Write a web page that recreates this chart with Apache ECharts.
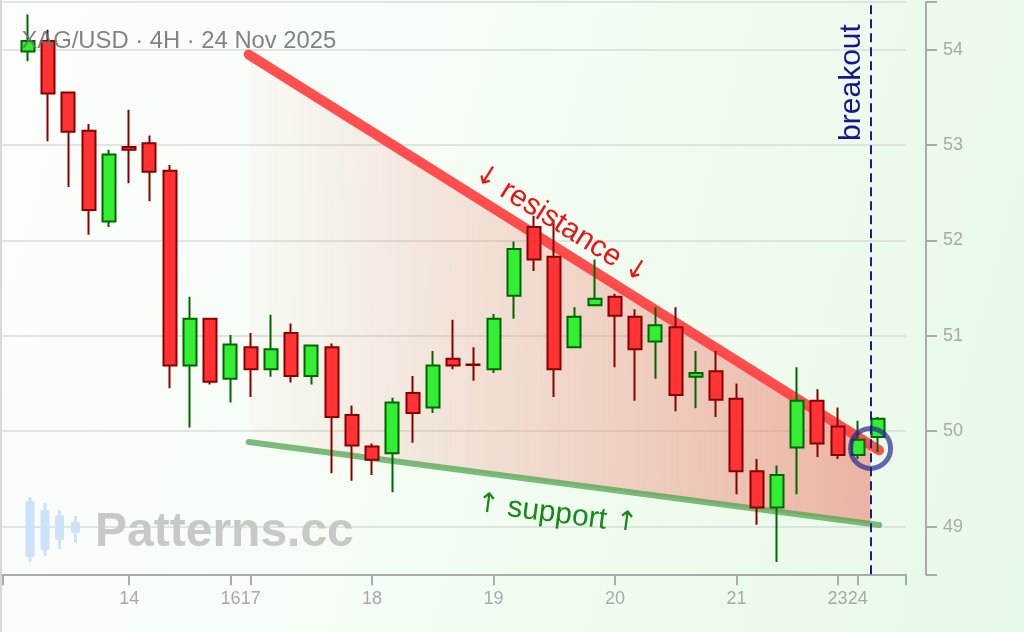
<!DOCTYPE html>
<html><head><meta charset="utf-8">
<script src="https://cdn.jsdelivr.net/npm/echarts@6/dist/echarts.min.js"></script>
<style>
html,body{margin:0;padding:0;}
#chart{width:1024px;height:632px;background:linear-gradient(105deg,#fcfefc 0%,#f5fdf5 40%,#e7f9e7 100%);}
</style></head><body><div id="chart"></div>
<script>
// ---- data (4H candles, index = candle number) ----
const opens  = [53.98,54.09,53.55,53.15,52.20,52.98,53.02,52.73,50.69,51.18,50.55,50.88,50.65,51.03,50.58,50.88,50.17,49.84,49.77,50.40,50.25,50.76,50.70,50.65,51.42,52.14,51.83,50.88,51.32,51.41,51.20,50.94,51.09,50.57,50.63,50.34,49.58,49.20,49.83,50.32,50.05,49.75,49.94];
const closes = [54.09,53.54,53.14,52.32,52.90,52.95,52.72,50.69,51.18,50.52,50.91,50.65,50.86,50.58,50.90,50.15,49.85,49.70,50.30,50.19,50.69,50.69,50.695,51.18,51.91,51.80,50.65,51.20,51.39,51.21,50.86,51.11,50.38,50.61,50.33,49.58,49.20,49.54,50.32,49.87,49.75,49.91,50.13];
const lows   = [53.88,53.04,52.56,52.06,52.14,52.60,52.41,50.45,50.04,50.49,50.30,50.36,50.57,50.51,50.49,49.56,49.48,49.54,49.36,49.88,50.19,50.65,50.53,50.61,51.18,51.68,50.36,50.88,51.32,50.67,50.32,50.55,50.21,50.24,50.15,49.34,49.02,48.63,49.34,49.73,49.71,49.71,49.78];
const highs  = [54.37,54.21,53.56,53.22,52.95,53.37,53.10,52.79,51.41,51.19,51.01,51.03,51.22,51.13,50.90,50.92,50.27,49.87,50.35,50.58,50.84,51.17,50.88,51.23,51.99,52.26,52.22,51.30,51.80,51.44,51.28,51.30,51.30,50.84,50.84,50.50,49.71,49.64,50.67,50.44,50.25,50.11,50.15];
const dayTickIndex  = [5,10,11,17,23,29,35,40,41];
const dayTickLabels = ['14','16','17','18','19','20','21','23','24'];
const yTickLabels   = [49,50,51,52,53,54];
const resistanceLine = [[10.9,53.95],[42.05,49.80]];
const supportLine    = [[10.9,49.887],[42.05,49.017]];
const breakoutX = 41.63;
const breakoutPoint = [41.63,49.82];

const X_MIN = -1.27, X_MAX = 43.38, Y_MIN = 48.5, Y_MAX = 54.5;
const candleData = opens.map((o,i)=>[i,o,closes[i],lows[i],highs[i]]);
function lerp(line,x){const [a,b]=line;return a[1]+(b[1]-a[1])*(x-a[0])/(b[0]-a[0]);}

const chart = echarts.init(document.getElementById('chart'), null, {renderer:'canvas'});
const axisGray = '#a9aca9';
const FONT = 'Liberation Sans, Arial, Helvetica, sans-serif';

chart.setOption({
  animation:false,
  backgroundColor:'transparent',
  grid:{left:2.3, right:118, top:2, bottom:57.7, containLabel:false},
  xAxis:{
    type:'value', min:X_MIN, max:X_MAX,
    axisLine:{show:true, onZero:false, lineStyle:{color:axisGray, width:2}},
    axisTick:{show:true, length:11, lineStyle:{color:axisGray, width:2}, customValues:[X_MIN].concat(dayTickIndex,[X_MAX])},
    axisLabel:{show:true, margin:16, color:'#a8aaa8', fontSize:18, fontFamily:FONT, customValues:dayTickIndex,
      formatter:function(v){const k=dayTickIndex.indexOf(Math.round(v));return k>=0?dayTickLabels[k]:'';}},
    splitLine:{show:false}
  },
  yAxis:{
    type:'value', position:'right', offset:20, min:Y_MIN, max:Y_MAX,
    axisLine:{show:true, onZero:false, lineStyle:{color:axisGray, width:2}},
    axisTick:{show:true, inside:false, length:11, lineStyle:{color:axisGray, width:2}, customValues:[Y_MIN].concat(yTickLabels,[Y_MAX])},
    axisLabel:{show:true, margin:17, color:'#a8aaa8', fontSize:18, fontFamily:FONT, customValues:yTickLabels},
    splitLine:{show:true, lineStyle:{color:'#d9ddd9', width:1.5}}
  },
  series:[
    {type:'custom', z:1, silent:true, data:[[breakoutX,50]], encode:{x:0,y:1},
     renderItem:function(params, api){
       const x0 = resistanceLine[0][0];
       const pts=[api.coord([x0,lerp(resistanceLine,x0)]), api.coord([breakoutX,lerp(resistanceLine,breakoutX)]),
                  api.coord([breakoutX,lerp(supportLine,breakoutX)]), api.coord([x0,lerp(supportLine,x0)])];
       return {type:'polygon', shape:{points:pts}, style:{fill:new echarts.graphic.LinearGradient(0,0,1,0,[
         {offset:0,color:'rgba(236,95,75,0.02)'},{offset:1,color:'rgba(236,95,75,0.45)'}])}};
     }},
    {type:'line', z:2, silent:true, data:supportLine, symbol:'none', lineStyle:{color:'rgba(70,160,70,0.7)', width:6, cap:'round'}},
    {type:'line', z:2, silent:true, data:resistanceLine, symbol:'none', lineStyle:{color:'rgba(255,60,60,0.9)', width:10, cap:'round'}},
    {type:'candlestick', z:3, data:candleData, dimensions:['x','open','close','low','high'], encode:{x:0,y:[1,2,3,4]},
     barWidth:13.5,
     itemStyle:{color:'#33ee33', color0:'#ff3333', borderColor:'#006600', borderColor0:'#880000', borderWidth:2}},
    {type:'scatter', z:4, silent:true, data:[breakoutPoint], symbol:'circle', symbolSize:40,
     itemStyle:{color:'rgba(0,0,0,0)', borderColor:'rgba(35,35,145,0.85)', borderWidth:5},
     markLine:{silent:true, symbol:['none','none'], label:{show:false}, animation:false,
       lineStyle:{color:'#1c1c8f', width:2, type:[9,5]}, data:[{xAxis:breakoutX}]}}
  ]
});

// annotations positioned through the chart's own scales
const p = d => chart.convertToPixel({gridIndex:0}, d);
const r0=p(resistanceLine[0]), r1=p(resistanceLine[1]);
const s0=p(supportLine[0]), s1=p(supportLine[1]);
const rAng=Math.atan2(r1[1]-r0[1], r1[0]-r0[0]);
const sAng=Math.atan2(s1[1]-s0[1], s1[0]-s0[0]);
const rAnchor=p([26.33,52.17]);
const sAnchor=p([26.14,49.132]);
const bAnchor=p([40.72,53.656]);

const iconColor='#cde1f8';
function iconCandle(cx, wTop, wBot, bTop, bBot){
  return [
    {type:'rect', z:0, shape:{x:cx-1.5, y:wTop, width:3, height:wBot-wTop}, style:{fill:iconColor}},
    {type:'rect', z:0, shape:{x:cx-4.5, y:bTop, width:9, height:bBot-bTop, r:2}, style:{fill:iconColor}}
  ];
}
function annText(anchor, ang, txt, color){
  return {type:'text', z:100, silent:true, x:anchor[0], y:anchor[1], rotation:-ang,
    style:{text:txt, font:'30px '+FONT, fill:color, textAlign:'center', textVerticalAlign:'middle', align:'center', verticalAlign:'middle',
      rich:{a:{fontFamily:'DejaVu Sans', fontSize:27, fill:color}}}};
}
chart.setOption({
  graphic:[
    {type:'rect', z:0, silent:true, shape:{x:0, y:0, width:2, height:632}, style:{fill:'#d6dad6'}},
    ...iconCandle(30,497,562,501,557), ...iconCandle(45,503,556,510,550),
    ...iconCandle(59.5,510,549,515,540), ...iconCandle(75.5,516,543,522,533),
    {type:'text', z:0, silent:true, x:95, y:533, style:{text:'Patterns.cc', font:'bold 48px '+FONT, fill:'#c6c9c6', textAlign:'left', textVerticalAlign:'middle', align:'left', verticalAlign:'middle'}},
    {type:'text', z:100, silent:true, x:21.5, y:41, style:{text:'XAG/USD · 4H · 24 Nov 2025', font:'23.8px '+FONT, fill:'rgba(105,112,105,0.85)', textAlign:'left', textVerticalAlign:'middle', align:'left', verticalAlign:'middle'}},
    annText(rAnchor, rAng, '{a|↓} resistance {a|↓}', '#e81515'),
    annText(sAnchor, sAng, '{a|↑} support {a|↑}', '#168a16'),
    {type:'text', z:100, silent:true, x:bAnchor[0], y:bAnchor[1], rotation:Math.PI/2, style:{text:'breakout', font:'30px '+FONT, fill:'#16168a', textAlign:'center', textVerticalAlign:'middle', align:'center', verticalAlign:'middle'}}
  ]
});
</script></body></html>
